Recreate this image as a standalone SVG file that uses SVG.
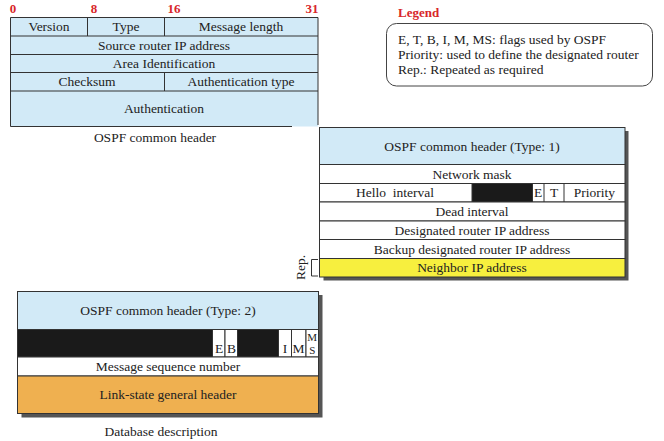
<svg xmlns="http://www.w3.org/2000/svg" width="664" height="441" viewBox="0 0 664 441" font-family="'Liberation Serif', 'Times New Roman', serif">
<style>
text{font-family:"Liberation Serif","Times New Roman",serif;font-size:13.5px;fill:#222;}
text.bit{fill:#d8262a;font-weight:bold;font-size:13px;}
.blue{fill:#d2eaf7;stroke:#333;stroke-width:1;}
.wh{fill:#ffffff;stroke:#333;stroke-width:1;}
.blk{fill:#1a1a1a;stroke:#333;stroke-width:1;}
.yel{fill:#f7ef3e;stroke:#333;stroke-width:1;}
.org{fill:#efb050;stroke:#333;stroke-width:1;}
.ln{stroke:#333;stroke-width:1;fill:none;}
.sh{fill:#555;}
</style>

<g id="common-header" text-anchor="middle">
  <text class="bit" x="13" y="13">0</text>
  <text class="bit" x="94" y="13">8</text>
  <text class="bit" x="174" y="13">16</text>
  <text class="bit" x="312" y="13">31</text>
  <rect x="10.5" y="17.5" width="307.5" height="109" fill="#d2eaf7"/>
  <path class="ln" d="M292,126.5 H10.5 V17.5 H318 V125"/>
  <path class="ln" d="M10.5,36 H318 M10.5,54.5 H318 M10.5,72.5 H318 M10.5,91 H318 M87.5,17.5 V36 M164.5,17.5 V36 M164.5,72.5 V91"/>
  <text x="49" y="31">Version</text>
  <text x="126" y="31">Type</text>
  <text x="241" y="31">Message length</text>
  <text x="164" y="49.5">Source router IP address</text>
  <text x="164" y="67.5">Area Identification</text>
  <text x="87" y="86">Checksum</text>
  <text x="241" y="86">Authentication type</text>
  <text x="164" y="113">Authentication</text>
  <text x="155" y="142">OSPF common header</text>
</g>

<g id="legend">
  <text x="398" y="17" style="fill:#d8262a;font-weight:bold;font-size:13px">Legend</text>
  <rect x="386.5" y="23.5" width="266" height="62.5" rx="10" ry="10" fill="#fff" stroke="#444" stroke-width="1"/>
  <text x="398" y="44">E, T, B, I, M, MS: flags used by OSPF</text>
  <text x="398" y="59">Priority: used to define the designated router</text>
  <text x="398" y="74">Rep.: Repeated as required</text>
</g>

<g id="hello" text-anchor="middle">
  <rect class="sh" x="323.5" y="131" width="305" height="149.5"/>
  <rect class="blue" x="319.5" y="127.5" width="305.5" height="37"/>
  <rect class="wh" x="319.5" y="164.5" width="305.5" height="19"/>
  <rect class="wh" x="319.5" y="183.5" width="305.5" height="18.5"/>
  <rect class="blk" x="472" y="183.5" width="60.5" height="18.5"/>
  <path class="ln" d="M544,183.5 V202 M564,183.5 V202"/>
  <rect class="wh" x="319.5" y="202" width="305.5" height="19"/>
  <rect class="wh" x="319.5" y="221" width="305.5" height="18.5"/>
  <rect class="wh" x="319.5" y="239.5" width="305.5" height="19"/>
  <rect class="yel" x="319.5" y="258.5" width="305.5" height="18.5"/>
  <text x="472" y="150.5">OSPF common header (Type: 1)</text>
  <text x="472" y="178.5">Network mask</text>
  <text x="395" y="197" xml:space="preserve">Hello  interval</text>
  <text x="538" y="197">E</text>
  <text x="554" y="197">T</text>
  <text x="594.5" y="197">Priority</text>
  <text x="472" y="216">Dead interval</text>
  <text x="472" y="234.5">Designated router IP address</text>
  <text x="472" y="253.5">Backup designated router IP address</text>
  <text x="472" y="272">Neighbor IP address</text>
</g>

<g id="rep-bracket" text-anchor="middle">
  <path class="ln" d="M318,259.5 H311.5 V276 H318"/>
  <text transform="translate(304.5,267.5) rotate(-90)">Rep.</text>
</g>

<g id="database-description" text-anchor="middle">
  <rect class="sh" x="21.5" y="295" width="301" height="122.5"/>
  <rect class="blue" x="17.5" y="291.5" width="301" height="38"/>
  <rect class="blk" x="17.5" y="329.5" width="301" height="27.5"/>
  <rect class="wh" x="212.5" y="329.5" width="12.5" height="27.5"/>
  <rect class="wh" x="225" y="329.5" width="12.5" height="27.5"/>
  <rect class="wh" x="278.5" y="329.5" width="13" height="27.5"/>
  <rect class="wh" x="291.5" y="329.5" width="14.5" height="27.5"/>
  <rect class="wh" x="306" y="329.5" width="12.5" height="27.5"/>
  <rect class="wh" x="17.5" y="357" width="301" height="19"/>
  <rect class="org" x="17.5" y="376" width="301" height="37.5"/>
  <text x="168" y="315">OSPF common header (Type: 2)</text>
  <text x="219" y="353">E</text>
  <text x="231.5" y="353">B</text>
  <text x="285" y="353">I</text>
  <text x="298.5" y="353">M</text>
  <text x="312.2" y="341" style="font-size:11px">M</text>
  <text x="312.2" y="354" style="font-size:11px">S</text>
  <text x="168" y="371">Message sequence number</text>
  <text x="168" y="399">Link-state general header</text>
  <text x="161" y="436">Database description</text>
</g>
</svg>
